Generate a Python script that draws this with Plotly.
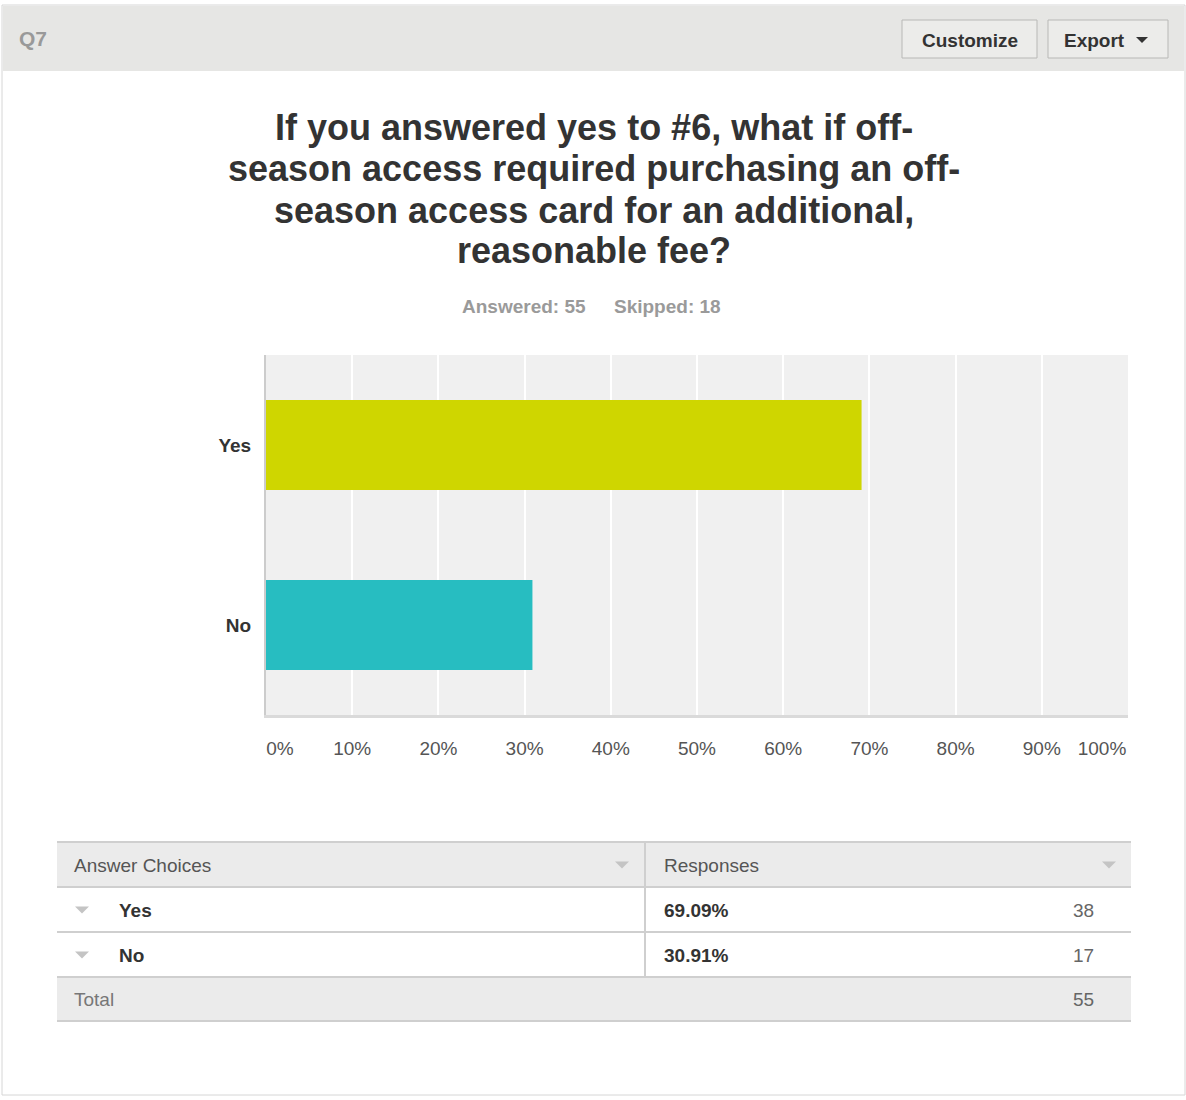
import plotly.graph_objects as go

# ---- data ----
choices = ["Yes", "No"]
percents = [69.09, 30.91]
counts = [38, 17]
total = 55
answered = 55
skipped = 18
bar_colors = ["#cfd600", "#27bdc1"]
tick_vals = [i / 10 for i in range(11)]
tick_text = [f"{i * 10}%" for i in range(11)]
question_id = "Q7"
title_lines = [
    "If you answered yes to #6, what if off-",
    "season access required purchasing an off-",
    "season access card for an additional,",
    "reasonable fee?",
]

W, H = 1186, 1100
FONT = "Liberation Sans, Arial, Helvetica, sans-serif"


def px(x):
    return x / W


def py(y):
    return 1 - y / H


fractions = [p / 100 for p in percents]

fig = go.Figure()
fig.add_trace(go.Bar(
    x=fractions,
    y=choices,
    orientation="h",
    marker=dict(color=bar_colors, line=dict(width=0)),
    width=0.5,
    hoverinfo="x+y",
    showlegend=False,
))
# invisible companions so the two overlay axes (end labels) get drawn
for ax in ["x2", "x3"]:
    fig.add_trace(go.Scatter(
        x=fractions, y=choices, xaxis=ax, yaxis="y", mode="markers",
        marker=dict(opacity=0, size=1), hoverinfo="skip", showlegend=False,
    ))

shapes = []


def rect(x0, y0, x1, y1, fill, line_color=None, lw=0, layer="below"):
    shapes.append(dict(
        type="rect", xref="paper", yref="paper",
        x0=px(x0), x1=px(x1), y0=py(y1), y1=py(y0),
        fillcolor=fill,
        line=dict(color=line_color or "rgba(0,0,0,0)", width=lw),
        layer=layer,
    ))


def hline(x0, x1, y, color, lw=1):
    shapes.append(dict(type="line", xref="paper", yref="paper",
                       x0=px(x0), x1=px(x1), y0=py(y), y1=py(y),
                       line=dict(color=color, width=lw), layer="above"))


def vline(x, y0, y1, color, lw=1):
    shapes.append(dict(type="line", xref="paper", yref="paper",
                       x0=px(x), x1=px(x), y0=py(y0), y1=py(y1),
                       line=dict(color=color, width=lw), layer="above"))


def tri(cx, cy, w, h, color):
    path = (f"M {px(cx - w / 2)} {py(cy - h / 2)} L {px(cx + w / 2)} {py(cy - h / 2)} "
            f"L {px(cx)} {py(cy + h / 2)} Z")
    shapes.append(dict(type="path", xref="paper", yref="paper", path=path,
                       fillcolor=color, line=dict(width=0), layer="above"))


# card (outline only, so the plot area stays visible)
rect(2, 5, 1185, 1095, "rgba(0,0,0,0)", "#d6d6d6", 1)
rect(3, 6, 1184, 71, "#e6e6e4")
# buttons
rect(902, 20, 1037, 58, "#ececea", "#b8b8b6", 1, layer="above")
rect(1048, 20, 1168, 58, "#ececea", "#b8b8b6", 1, layer="above")
tri(1142, 40, 12, 6, "#333333")

# table
rect(57, 842, 1131, 887, "#ebebeb")
rect(57, 977, 1131, 1021, "#ebebeb")
for yy in [842, 887, 932, 977, 1021]:
    hline(57, 1131, yy, "#cfcfcf", 2)
vline(645, 842, 977, "#cfcfcf", 2)
tri(622, 865, 14, 7, "#c4c4c4")
tri(1109, 865, 14, 7, "#c4c4c4")

annotations = []


def text(x, y, s, size=18, color="#333333", bold=False, xanchor="left"):
    # small correction for the annotation's inner padding
    if xanchor == "left":
        x -= 2
    elif xanchor == "right":
        x += 2
    annotations.append(dict(
        xref="paper", yref="paper", x=px(x), y=py(y), text=(f"<b>{s}</b>" if bold else s),
        showarrow=False, xanchor=xanchor, yanchor="middle",
        font=dict(family=FONT, size=size, color=color),
    ))


text(19, 38, question_id, 21, "#999999", True)
text(969.5, 40, "Customize", 19, "#333333", True, "center")
text(1064, 40, "Export", 19, "#333333", True, "left")

for i, line in enumerate(title_lines):
    text(594, 128 + 41 * i, line, 36, "#333333", True, "center")
text(462, 307, f"Answered: {answered}", 19, "#9a9a9a", True)
text(614, 307, f"Skipped: {skipped}", 19, "#9a9a9a", True)

# table text
text(74, 865, "Answer Choices", 19, "#555555")
text(664, 865, "Responses", 19, "#555555")
row_y = [910, 955]
for c, p, n, yy in zip(choices, percents, counts, row_y):
    tri(82, yy, 14, 7, "#c4c4c4")
    text(119, yy, c, 19, "#333333", True)
    text(664, yy, f"{p:.2f}%", 19, "#333333", True)
    text(1094, yy, str(n), 19, "#666666", False, "right")
text(74, 999, "Total", 19, "#777777")
text(1094, 999, str(total), 19, "#666666", False, "right")

x_domain = [px(266), px(1128)]
tick_font = dict(family=FONT, size=19, color="#555555")


def edge_axis(idx, shift):
    # overlay axis that carries only one end label, nudged inside the plot edge
    return dict(
        domain=x_domain, range=[0, 1], overlaying="x", anchor="y", side="bottom",
        tickvals=[tick_vals[idx]], ticktext=[tick_text[idx]],
        showgrid=False, zeroline=False,
        showline=True, linecolor="rgba(0,0,0,0)", linewidth=3,
        ticks="outside", ticklen=14, tickcolor="rgba(0,0,0,0)",
        tickfont=tick_font, ticklabelshift=shift,
        fixedrange=True, automargin=False,
    )


fig.update_layout(
    width=W, height=H, autosize=False,
    margin=dict(l=0, r=0, t=0, b=0, pad=0),
    paper_bgcolor="#ffffff",
    plot_bgcolor="#f0f0f0",
    shapes=shapes,
    annotations=annotations,
    font=dict(family=FONT),
    xaxis=dict(
        domain=x_domain,
        range=[0, 1],
        tickvals=tick_vals[1:-1], ticktext=tick_text[1:-1],
        showgrid=True, gridcolor="#ffffff", gridwidth=2,
        zeroline=False,
        showline=True, linecolor="#dadada", linewidth=3,
        ticks="outside", ticklen=14, tickcolor="rgba(0,0,0,0)",
        tickfont=tick_font,
        fixedrange=True, automargin=False,
    ),
    xaxis2=edge_axis(0, 14),
    xaxis3=edge_axis(-1, -26),
    yaxis=dict(
        domain=[py(715), py(355)],
        autorange="reversed",
        showgrid=False, zeroline=False,
        showline=True, linecolor="#cccccc", linewidth=2,
        ticks="outside", ticklen=9, tickcolor="rgba(0,0,0,0)",
        tickfont=dict(family=FONT, size=19, color="#333333", weight="bold"),
        fixedrange=True, automargin=False,
    ),
    bargap=0.5,
)

fig.write_html(
    "out.html",
    post_script="document.body.style.margin='0';document.body.style.overflow='hidden';",
    config={"displayModeBar": False, "responsive": False},
)
